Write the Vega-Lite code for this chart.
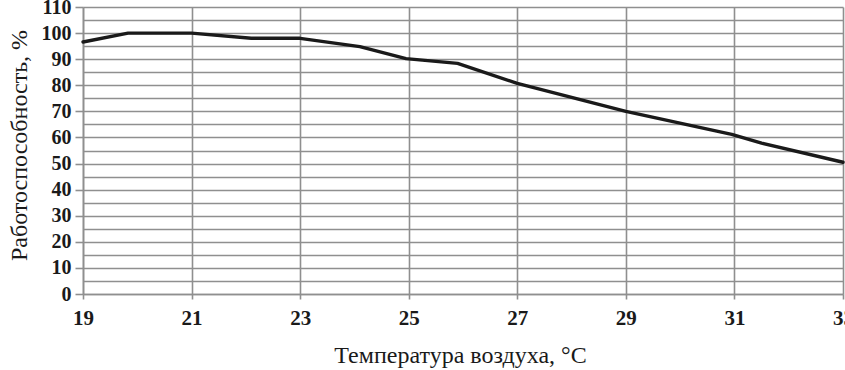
{
  "$schema": "https://vega.github.io/schema/vega-lite/v6.json",
  "autosize": {"type": "none"},
  "padding": {"left": 83, "top": 7, "right": 2, "bottom": 76},
  "width": 760,
  "height": 287,
  "background": "white",
  "config": {
    "view": {"stroke": null},
    "axis": {
      "gridColor": "#8f8f8f",
      "gridWidth": 1.6,
      "gridOpacity": 1,
      "domainColor": "#8f8f8f",
      "domainWidth": 1.6,
      "tickColor": "#8f8f8f",
      "tickWidth": 1.6,
      "labelFont": "Liberation Serif",
      "labelFontWeight": "bold",
      "labelColor": "#1a1a1a",
      "titleFont": "Liberation Serif",
      "titleFontWeight": "normal",
      "titleColor": "#1a1a1a"
    }
  },
  "data": {
    "values": [
      {"t": 19, "p": 96.6},
      {"t": 19.83, "p": 100},
      {"t": 21, "p": 100},
      {"t": 22.1, "p": 98},
      {"t": 23, "p": 98},
      {"t": 24.1, "p": 94.8},
      {"t": 24.95, "p": 90.2},
      {"t": 25.9, "p": 88.4},
      {"t": 27, "p": 80.7},
      {"t": 29, "p": 70},
      {"t": 30.95, "p": 61.2},
      {"t": 31.5, "p": 57.8},
      {"t": 33, "p": 50.5}
    ]
  },
  "mark": {"type": "line", "color": "#1a1a1a", "strokeWidth": 3.4, "strokeJoin": "round", "strokeCap": "round", "clip": false},
  "encoding": {
    "x": {
      "field": "t",
      "type": "quantitative",
      "scale": {"domain": [19, 33], "nice": false, "zero": false},
      "axis": {
        "values": [19, 21, 23, 25, 27, 29, 31, 33],
        "title": "Температура воздуха, °C",
        "titleFontSize": 24,
        "titleX": 377,
        "titleY": 68,
        "titleBaseline": "alphabetic",
        "labelFontSize": 21,
        "labelPadding": 8,
        "tickSize": 5,
        "labelFlush": false,
        "labelOverlap": false
      }
    },
    "y": {
      "field": "p",
      "type": "quantitative",
      "scale": {"domain": [0, 110], "nice": false},
      "axis": {
        "values": [0, 5, 10, 15, 20, 25, 30, 35, 40, 45, 50, 55, 60, 65, 70, 75, 80, 85, 90, 95, 100, 105, 110],
        "labelExpr": "datum.value % 10 === 0 ? datum.label : ''",
        "tickOpacity": {"condition": {"test": "datum.value % 10 === 0", "value": 1}, "value": 0},
        "title": "Работоспособность, %",
        "titleFontSize": 24,
        "titleX": -57,
        "titleY": 138,
        "titleAngle": -90,
        "titleAlign": "center",
        "titleBaseline": "alphabetic",
        "labelFontSize": 20,
        "labelPadding": 4,
        "tickSize": 8,
        "labelFlush": false,
        "labelOverlap": false
      }
    }
  }
}
